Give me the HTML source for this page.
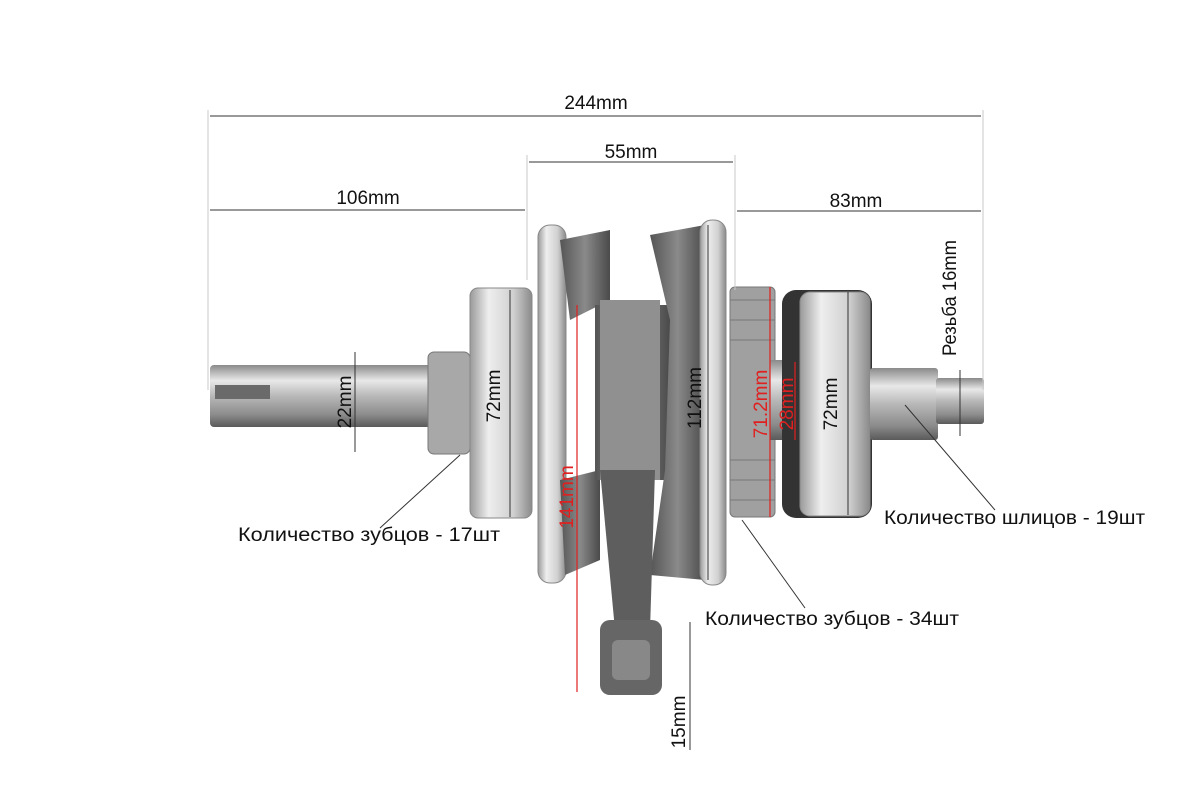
<!DOCTYPE html>
<html><head><meta charset="utf-8"><style>
html,body{margin:0;padding:0;background:#fff;}
svg{display:block;}
text{font-family:"Liberation Sans",sans-serif;font-size:19px;fill:#111;}
</style></head><body>
<svg width="1194" height="800" viewBox="0 0 1194 800" xmlns="http://www.w3.org/2000/svg">
<defs>
<linearGradient id="cyl" x1="0" y1="0" x2="0" y2="1">
<stop offset="0" stop-color="#8a8a8a"/><stop offset="0.25" stop-color="#e8e8e8"/><stop offset="0.5" stop-color="#b8b8b8"/><stop offset="0.8" stop-color="#8c8c8c"/><stop offset="1" stop-color="#5a5a5a"/></linearGradient>
<linearGradient id="brg" x1="0" y1="0" x2="1" y2="0">
<stop offset="0" stop-color="#9a9a9a"/><stop offset="0.3" stop-color="#eeeeee"/><stop offset="0.7" stop-color="#d0d0d0"/><stop offset="1" stop-color="#8a8a8a"/></linearGradient>
<linearGradient id="cast" x1="0" y1="0" x2="1" y2="0">
<stop offset="0" stop-color="#555"/><stop offset="0.5" stop-color="#8a8a8a"/><stop offset="1" stop-color="#4a4a4a"/></linearGradient>
</defs>
<rect x="210" y="365" width="230" height="62" rx="4" fill="url(#cyl)"/>
<rect x="215" y="385" width="55" height="14" fill="#6a6a6a"/>
<rect x="428" y="352" width="42" height="102" rx="6" fill="#a8a8a8" stroke="#777"/>
<rect x="470" y="288" width="62" height="230" rx="8" fill="url(#brg)" stroke="#888"/>
<rect x="538" y="225" width="28" height="358" rx="12" fill="url(#brg)" stroke="#888"/>
<path d="M560 240 L610 230 L610 300 L570 320 Z" fill="url(#cast)"/>
<path d="M560 480 L600 470 L600 560 L565 575 Z" fill="url(#cast)"/>
<rect x="595" y="305" width="75" height="175" fill="url(#cast)"/>
<rect x="600" y="300" width="60" height="180" fill="#909090"/>
<path d="M650 235 L705 225 L705 580 L650 575 L665 470 L670 320 Z" fill="url(#cast)"/>
<rect x="700" y="220" width="26" height="365" rx="12" fill="url(#brg)" stroke="#888"/>
<path d="M600 470 L655 470 L650 630 L615 630 Z" fill="#5e5e5e"/>
<rect x="600" y="620" width="62" height="75" rx="10" fill="#666"/>
<rect x="612" y="640" width="38" height="40" rx="6" fill="#888"/>
<rect x="730" y="287" width="45" height="230" rx="5" fill="#a0a0a0" stroke="#777"/>
<g stroke="#777" stroke-width="1">
<line x1="730" y1="300" x2="775" y2="300"/><line x1="730" y1="320" x2="775" y2="320"/><line x1="730" y1="340" x2="775" y2="340"/><line x1="730" y1="460" x2="775" y2="460"/><line x1="730" y1="480" x2="775" y2="480"/><line x1="730" y1="500" x2="775" y2="500"/></g>
<rect x="770" y="360" width="20" height="80" fill="url(#cyl)"/>
<rect x="782" y="290" width="90" height="228" rx="14" fill="#333"/>
<rect x="800" y="292" width="70" height="224" rx="10" fill="url(#brg)" stroke="#888"/>
<rect x="870" y="368" width="68" height="72" rx="3" fill="url(#cyl)"/>
<rect x="936" y="378" width="48" height="46" rx="3" fill="url(#cyl)"/>
<g stroke="#c8c8c8" stroke-width="1">
<line x1="208" y1="110" x2="208" y2="390"/><line x1="983" y1="110" x2="983" y2="390"/>
<line x1="527" y1="155" x2="527" y2="280"/><line x1="735" y1="155" x2="735" y2="290"/>
</g>
<g stroke="#333" stroke-width="1">
<line x1="210" y1="116" x2="981" y2="116"/>
<line x1="210" y1="210" x2="525" y2="210"/>
<line x1="529" y1="162" x2="733" y2="162"/>
<line x1="737" y1="211" x2="981" y2="211"/>
<line x1="355" y1="352" x2="355" y2="452"/>
<line x1="510" y1="290" x2="510" y2="517"/>
<line x1="708" y1="225" x2="708" y2="580"/>
<line x1="848" y1="292" x2="848" y2="515"/>
<line x1="960" y1="370" x2="960" y2="436"/>
<line x1="690" y1="622" x2="690" y2="750"/>
<line x1="460" y1="455" x2="380" y2="528"/>
<line x1="742" y1="520" x2="805" y2="608"/>
<line x1="905" y1="405" x2="995" y2="510"/>
</g>
<g stroke="#e02020" stroke-width="1.2">
<line x1="577" y1="305" x2="577" y2="692"/>
<line x1="770" y1="287" x2="770" y2="517"/>
<line x1="795" y1="362" x2="795" y2="440"/>
</g>
<text x="596" y="109" text-anchor="middle">244mm</text>
<text x="368" y="204" text-anchor="middle">106mm</text>
<text x="631" y="158" text-anchor="middle">55mm</text>
<text x="856" y="207" text-anchor="middle">83mm</text>
<text transform="translate(351,402) rotate(-90)" text-anchor="middle">22mm</text>
<text transform="translate(500,396) rotate(-90)" text-anchor="middle">72mm</text>
<text transform="translate(701,398) rotate(-90)" text-anchor="middle">112mm</text>
<text transform="translate(767,404) rotate(-90)" text-anchor="middle" style="fill:#e02020">71.2mm</text>
<text transform="translate(793,404) rotate(-90)" text-anchor="middle" style="fill:#e02020">28mm</text>
<text transform="translate(837,404) rotate(-90)" text-anchor="middle">72mm</text>
<text transform="translate(573,497) rotate(-90)" text-anchor="middle" style="fill:#e02020">141mm</text>
<text transform="translate(956,298) rotate(-90)" text-anchor="middle" textLength="116" lengthAdjust="spacingAndGlyphs">Резьба 16mm</text>
<text transform="translate(685,722) rotate(-90)" text-anchor="middle">15mm</text>
<text x="238" y="541" textLength="262" lengthAdjust="spacingAndGlyphs">Количество зубцов - 17шт</text>
<text x="705" y="625" textLength="254" lengthAdjust="spacingAndGlyphs">Количество зубцов - 34шт</text>
<text x="884" y="524" textLength="261" lengthAdjust="spacingAndGlyphs">Количество шлицов - 19шт</text>
</svg>
</body></html>
